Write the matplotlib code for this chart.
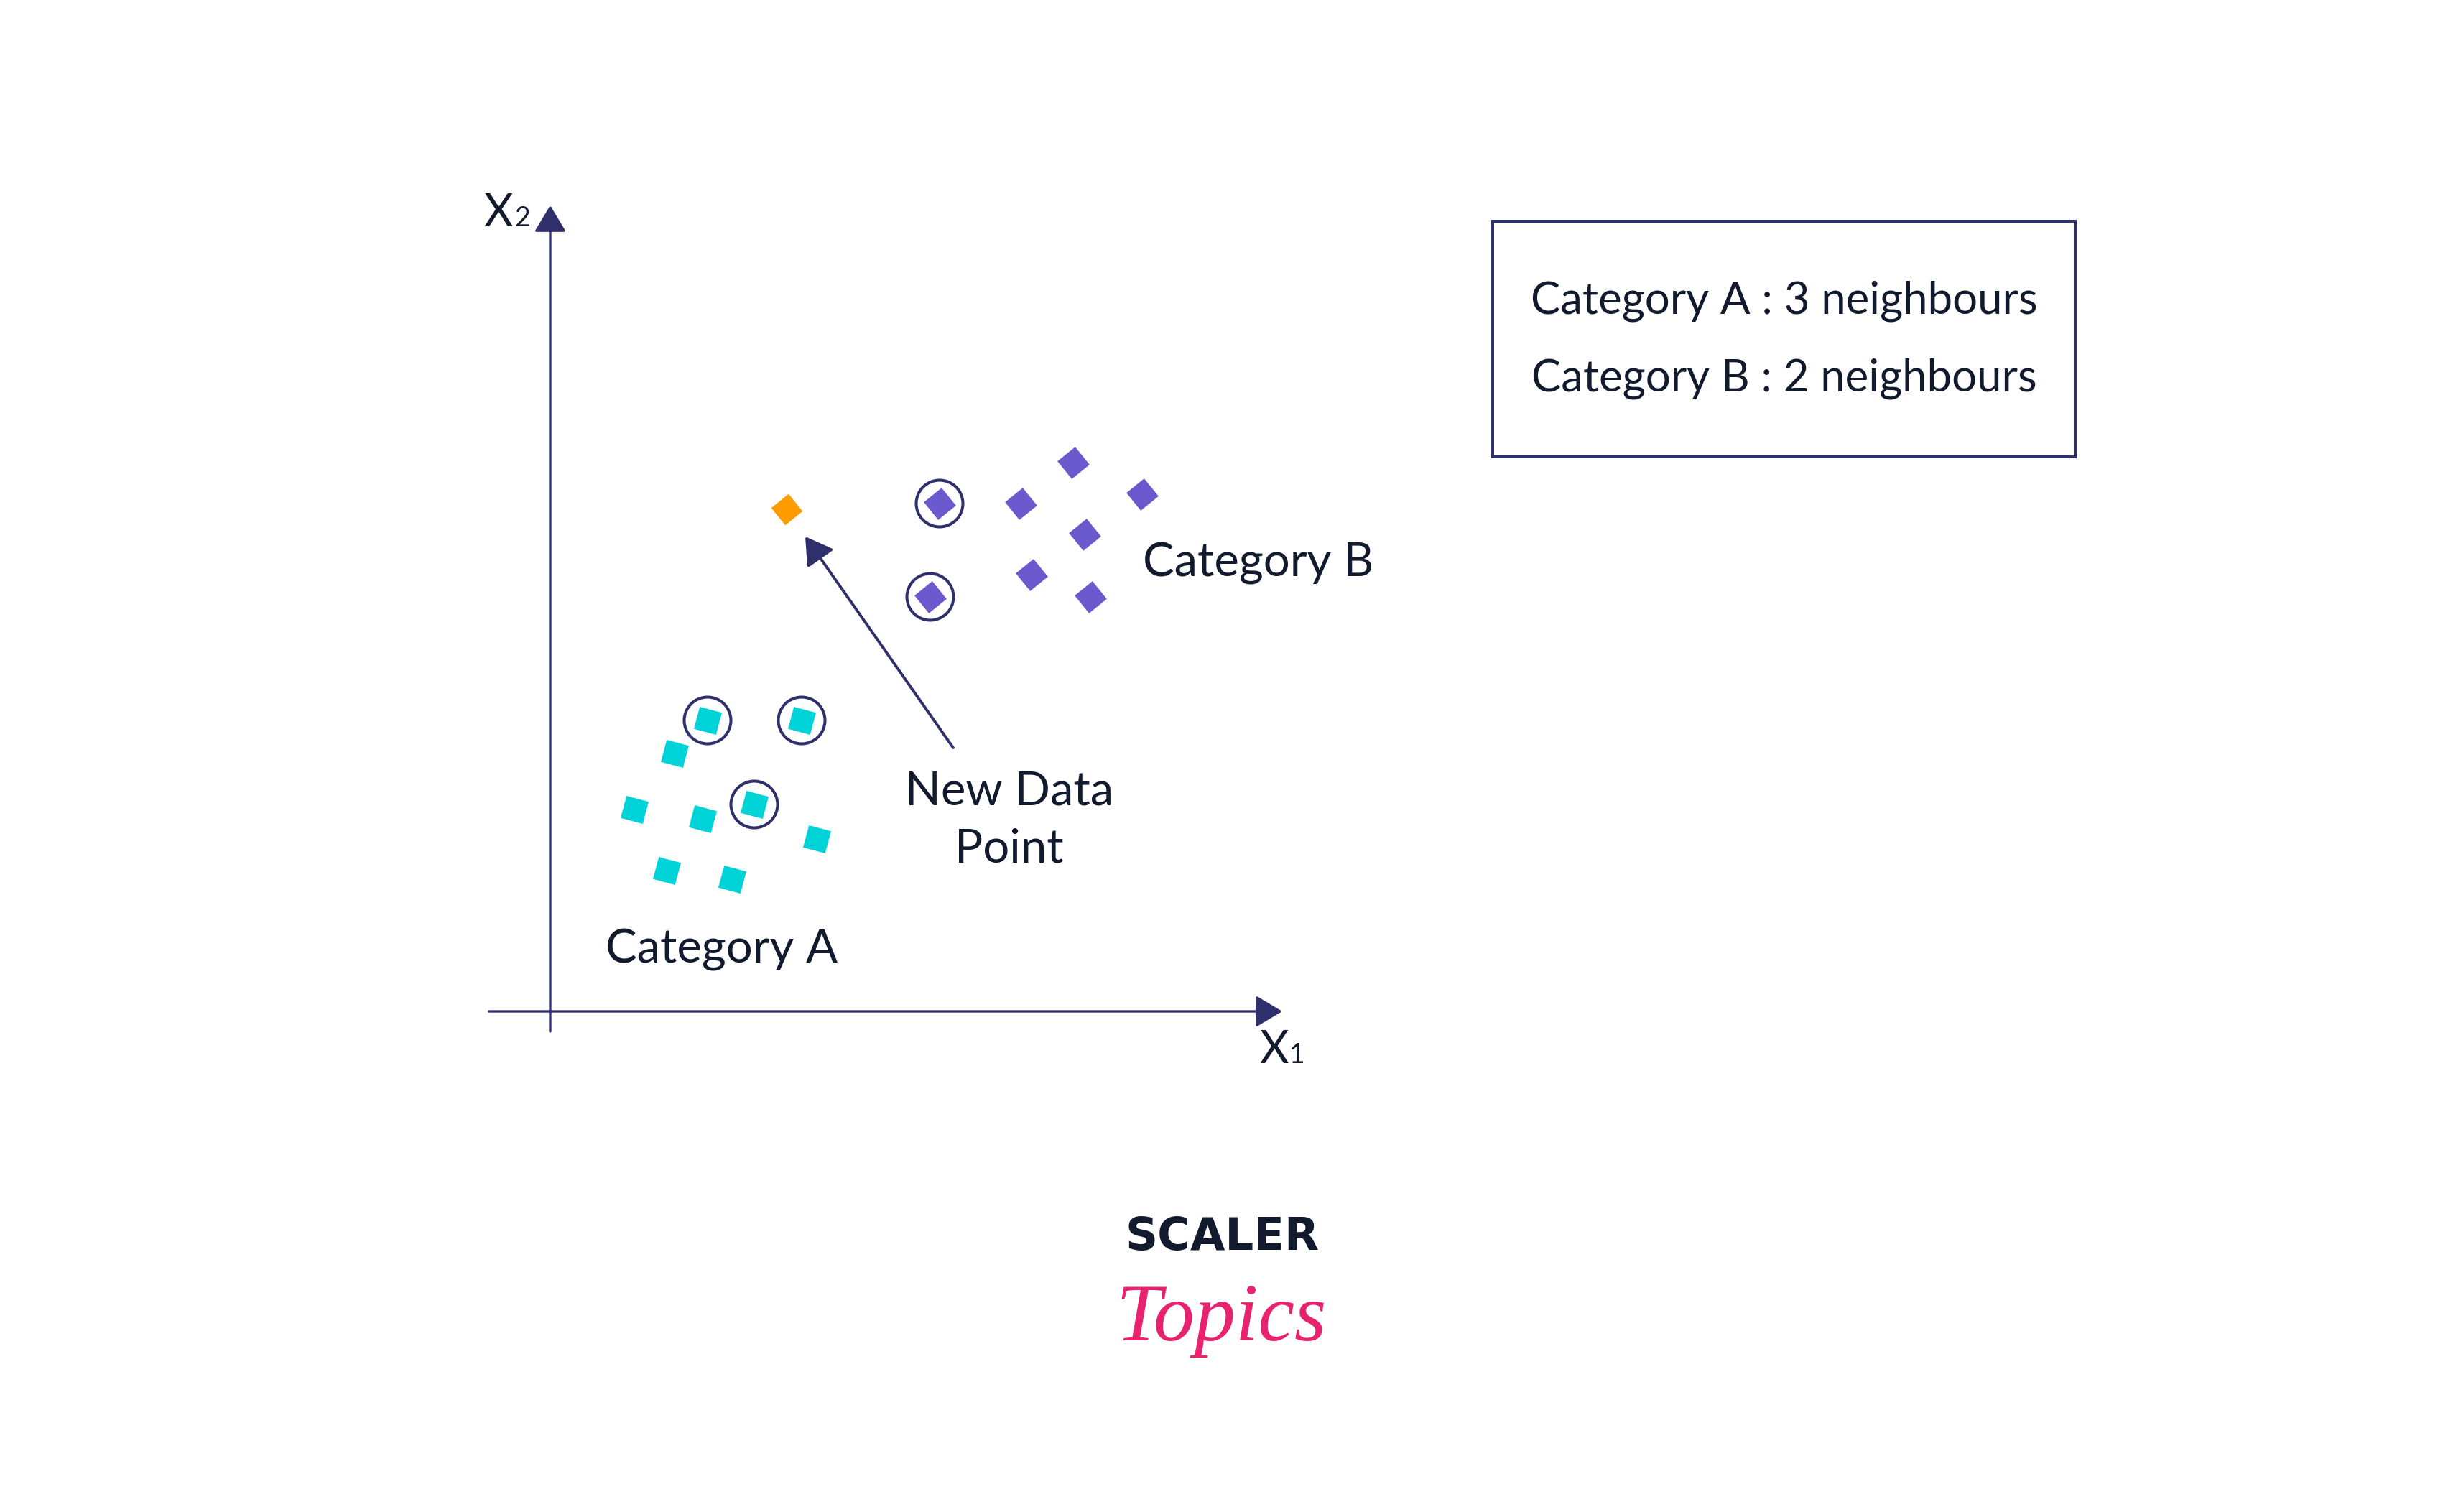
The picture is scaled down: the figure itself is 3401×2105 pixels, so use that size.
import matplotlib
matplotlib.use("Agg")
import matplotlib.pyplot as plt
from matplotlib.patches import Rectangle

# one data unit = 100 px, origin where the two axes cross
cat_a_x    = [2.19, 3.50, 1.73, 2.84, 1.17, 2.12, 3.71, 1.62, 2.53]
cat_a_y    = [4.05, 4.05, 3.59, 2.88, 2.81, 2.68, 2.40, 1.96, 1.84]
cat_a_near = [1, 1, 0, 1, 0, 0, 0, 0, 0]

cat_b_x    = [5.42, 7.28, 6.55, 8.24, 7.44, 5.29, 6.70, 7.52]
cat_b_y    = [7.07, 7.64, 7.07, 7.20, 6.64, 5.77, 6.08, 5.77]
cat_b_near = [1, 0, 0, 0, 0, 1, 0, 0]

new_x, new_y = 3.29, 6.99

box_labels = ["Category A", "Category B"]
box_counts = [3, 2]

NAVY   = "#2f2f6b"
INK    = "#121a2e"
CYAN   = "#00d3d8"
PURPLE = "#6a5acd"
ORANGE = "#ff9c00"
PINK   = "#e8226f"
FONT   = "Lato"

fig = plt.figure(figsize=(34.01, 21.05), dpi=100)
ax = fig.add_axes([0, 0, 1, 1])
ax.set_xlim(-7.66, 26.35)
ax.set_ylim(-6.97, 14.08)
ax.axis("off")

def arrow(x0, y0, x1, y1, lw):
    ax.annotate("", xy=(x1, y1), xytext=(x0, y0),
                arrowprops=dict(arrowstyle="-|>,head_length=1,head_width=0.6",
                                mutation_scale=23, lw=lw, color=NAVY,
                                shrinkA=0, shrinkB=0))

# axes
arrow(-0.85, 0, 10.19, 0, 2.4)
arrow(0, -0.28, 0, 11.22, 2.4)
ax.text(-0.93, 10.93, "X", fontsize=45, family=FONT, color=INK, va="baseline")
ax.text(-0.50, 10.93, "2", fontsize=27, family=FONT, color=INK, va="baseline")
ax.text(9.87, -0.72, "X", fontsize=45, family=FONT, color=INK, va="baseline")
ax.text(10.29, -0.72, "1", fontsize=27, family=FONT, color=INK, va="baseline")

# points
ax.scatter(cat_a_x, cat_a_y, s=1050, marker=(4, 0, 30), color=CYAN, lw=0, zorder=3)
ax.scatter(cat_b_x, cat_b_y, s=1050, marker=(4, 0, -6), color=PURPLE, lw=0, zorder=3)
ax.scatter([new_x], [new_y], s=1000, marker=(4, 0, -6), color=ORANGE, lw=0, zorder=3)

# nearest neighbours
near_x = [x for x, n in zip(cat_a_x, cat_a_near) if n] + [x for x, n in zip(cat_b_x, cat_b_near) if n]
near_y = [y for y, n in zip(cat_a_y, cat_a_near) if n] + [y for y, n in zip(cat_b_y, cat_b_near) if n]
ax.scatter(near_x, near_y, s=2190, marker="o", facecolors="none",
           edgecolors=NAVY, lw=2.9, zorder=4)

ax.text(2.39, 0.86, "Category A", fontsize=47, family=FONT, color=INK, ha="center", va="center")
ax.text(8.25, 6.24, "Category B", fontsize=47, family=FONT, color=INK, ha="left", va="center")

arrow(5.61, 3.67, 3.55, 6.61, 2.8)
ax.text(6.39, 2.66, "New Data\nPoint", fontsize=47, family=FONT, color=INK,
        ha="center", va="center", linespacing=1.42)

# neighbour count box
ax.add_patch(Rectangle((13.12, 7.72), 8.11, 3.28, fill=False, edgecolor=NAVY, lw=2.9))
for i, (lab, cnt) in enumerate(zip(box_labels, box_counts)):
    ax.text(17.18, 9.89 - i * 1.08, f"{lab} : {cnt} neighbours", fontsize=44.5,
            family=FONT, color=INK, ha="center", va="center")

# logo
ax.text(9.36, -3.32, "SCALER", fontsize=45, family="DejaVu Sans", weight="bold",
        color=INK, ha="center", va="baseline")
ax.text(9.34, -4.30, "Topics", fontsize=82, family="Liberation Serif", style="italic",
        color=PINK, ha="center", va="center")

fig.savefig("out.png", dpi=100)
